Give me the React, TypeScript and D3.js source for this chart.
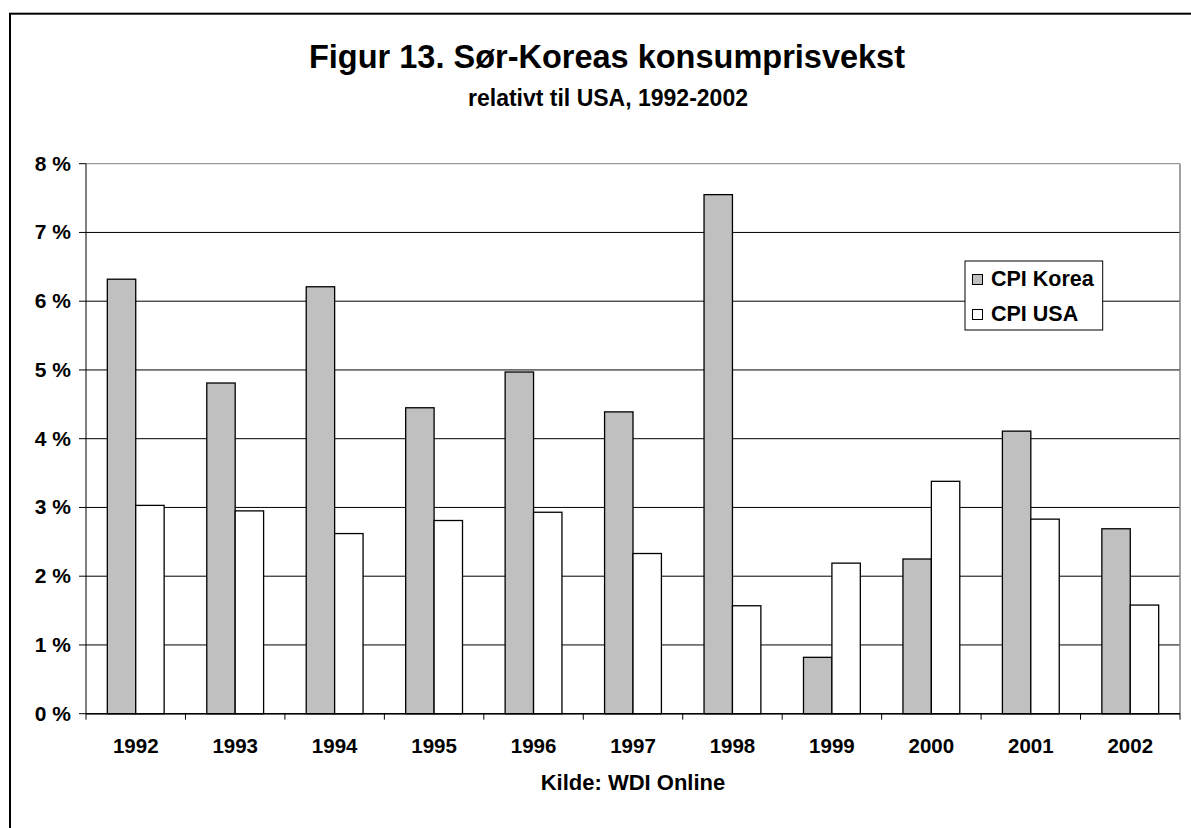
import React from "react";
import * as d3 from "d3";

const years = ["1992","1993","1994","1995","1996","1997","1998","1999","2000","2001","2002"];
const cpiKorea = [6.32, 4.81, 6.21, 4.45, 4.97, 4.39, 7.55, 0.82, 2.25, 4.11, 2.69];
const cpiUSA = [3.03, 2.95, 2.62, 2.81, 2.93, 2.33, 1.57, 2.19, 3.38, 2.83, 1.58];
const yTicks = [0, 1, 2, 3, 4, 5, 6, 7, 8];
const seriesNames = ["CPI Korea", "CPI USA"];
const seriesColors = ["#c0c0c0", "#ffffff"];

const title = "Figur 13. Sør-Koreas konsumprisvekst";
const subtitle = "relativt til USA, 1992-2002";
const source = "Kilde: WDI Online";

export default function App() {
  const left = 86, right = 1180, top = 163.7, bottom = 713.7;
  const x = d3.scaleBand<string>().domain(years).range([left, right]).paddingInner(0).paddingOuter(0);
  const y = d3.scaleLinear().domain([0, 8]).range([bottom, top]);
  const bw = x.bandwidth() / 3.5;
  const font = "'Liberation Sans', Arial, sans-serif";
  const series = [cpiKorea, cpiUSA];

  return (
    <svg width={1191} height={828} style={{ position: "absolute", left: 0, top: 0 }} fontFamily={font}>
      <rect x={0} y={0} width={1191} height={828} fill="#fff" />
      <rect x={10} y={13.7} width={1200} height={900} fill="#fff" stroke="#000" strokeWidth={2} />
      <text x={607} y={68} textAnchor="middle" fontSize={32.5} fontWeight="bold">{title}</text>
      <text x={608} y={106} textAnchor="middle" fontSize={23} fontWeight="bold">{subtitle}</text>

      {/* gridlines */}
      {yTicks.map((t) => (
        <line key={"g" + t} x1={left} x2={right} y1={y(t)} y2={y(t)} stroke={t === 8 ? "#808080" : "#000"} strokeWidth={1} />
      ))}
      {/* plot border right */}
      <line x1={right} x2={right} y1={top} y2={bottom} stroke="#808080" strokeWidth={1.5} />

      {/* bars */}
      {series.map((vals, si) =>
        vals.map((v, i) => {
          const bx = (x(years[i]) as number) + bw * 0.75 + si * bw;
          return (
            <rect key={si + "-" + i} x={bx} y={y(v)} width={bw} height={bottom - y(v)}
              fill={seriesColors[si]} stroke="#000" strokeWidth={1.3} />
          );
        })
      )}

      {/* y axis */}
      <line x1={left} x2={left} y1={top} y2={bottom} stroke="#000" strokeWidth={1} />
      {yTicks.map((t) => (
        <g key={"yt" + t}>
          <line x1={left - 7} x2={left} y1={y(t)} y2={y(t)} stroke="#000" />
          <text x={71} y={y(t) + 7} textAnchor="end" fontSize={21} fontWeight="bold">{t + " %"}</text>
        </g>
      ))}

      {/* x axis */}
      <line x1={left} x2={right} y1={bottom} y2={bottom} stroke="#000" strokeWidth={1.5} />
      {years.map((yr, i) => (
        <line key={"xt" + i} x1={x(yr) as number} x2={x(yr) as number} y1={bottom} y2={bottom + 6} stroke="#000" />
      ))}
      <line x1={right} x2={right} y1={bottom} y2={bottom + 6} stroke="#000" />
      {years.map((yr) => (
        <text key={"xl" + yr} x={(x(yr) as number) + x.bandwidth() / 2} y={752.5} textAnchor="middle" fontSize={20.5} fontWeight="bold">{yr}</text>
      ))}
      <text x={(left + right) / 2} y={790} textAnchor="middle" fontSize={22} fontWeight="bold">{source}</text>

      {/* legend */}
      <rect x={965} y={261} width={137.7} height={69} fill="#fff" stroke="#000" strokeWidth={1} />
      {seriesNames.map((n, i) => (
        <g key={n}>
          <rect x={972.5} y={274.5 + i * 35} width={10} height={10} fill={seriesColors[i]} stroke="#000" strokeWidth={1} />
          <text x={991} y={286 + i * 35} fontSize={21.5} fontWeight="bold">{n}</text>
        </g>
      ))}
    </svg>
  );
}
